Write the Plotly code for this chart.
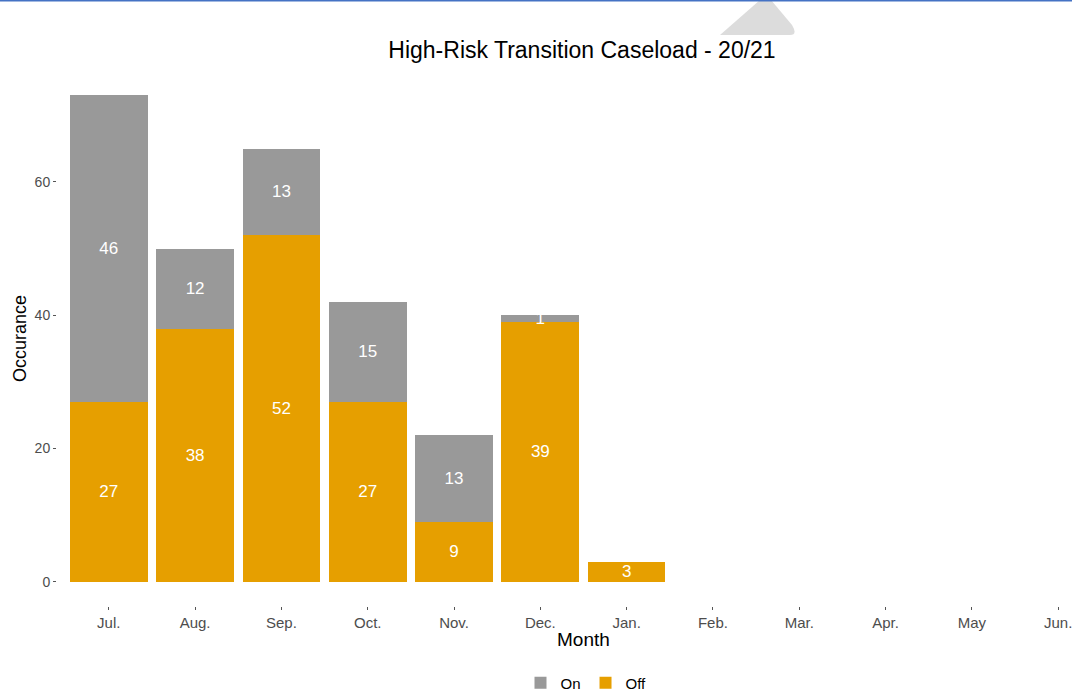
import plotly.graph_objects as go

months = ["Jul.", "Aug.", "Sep.", "Oct.", "Nov.", "Dec.", "Jan.", "Feb.", "Mar.", "Apr.", "May", "Jun."]
data_months = ["Jul.", "Aug.", "Sep.", "Oct.", "Nov.", "Dec.", "Jan."]
off_vals = [27, 38, 52, 27, 9, 39, 3]
on_months = ["Jul.", "Aug.", "Sep.", "Oct.", "Nov.", "Dec."]
on_vals = [46, 12, 13, 15, 13, 1]
y_ticks = [0, 20, 40, 60]

FONT = "Liberation Sans, Arial, sans-serif"
ORANGE = "#E69F00"
GREY = "#999999"

L, T, W, H = 57, 71, 1015, 535


def px(x):
    return (x - L) / W


def py(y):
    return 1 + (T - y) / H


fig = go.Figure()
fig.add_trace(go.Bar(
    x=data_months, y=off_vals, name="Off", marker_color=ORANGE, marker_line_width=0,
    text=[str(v) for v in off_vals], textposition="inside", insidetextanchor="middle",
    constraintext="none", textangle=0, textfont=dict(color="white", size=17, family=FONT),
    width=0.9,
))
fig.add_trace(go.Bar(
    x=on_months, y=on_vals, name="On", marker_color=GREY, marker_line_width=0,
    text=[str(v) for v in on_vals], textposition="inside", insidetextanchor="middle",
    constraintext="none", textangle=0, textfont=dict(color="white", size=17, family=FONT),
    width=0.9,
))

tri = "M {a} {b} L {c} {d} L {e} {d} L {f} {g} Q {h} {b} {i} {b} Z".format(
    a=px(720), b=py(35), c=px(760), d=py(0), e=px(771), f=px(792), g=py(25),
    h=px(798), i=px(790))

fig.update_layout(
    barmode="stack",
    width=1072, height=693,
    margin=dict(l=L, r=0, t=T, b=693 - T - H),
    paper_bgcolor="white", plot_bgcolor="white",
    font=dict(family=FONT),
    title=dict(text="High-Risk Transition Caseload - 20/21", x=582/1072, xref="container",
               xanchor="center", y=1 - 50/693, yref="container", yanchor="middle",
               font=dict(size=23, color="black", family=FONT)),
    xaxis=dict(categoryorder="array", categoryarray=months, range=[-0.6, 11.16],
               showgrid=False, zeroline=False, showline=False,
               ticks="outside", ticklen=3, tickcolor="#555555", tickwidth=1,
               tickfont=dict(size=15, color="#4d4d4d")),
    yaxis=dict(range=[-3.65, 76.65], tickvals=y_ticks, showgrid=False, zeroline=False,
               showline=False, ticks="outside", ticklen=3, tickcolor="#555555", tickwidth=1,
               tickfont=dict(size=14, color="#4d4d4d"),
               title=dict(text="Occurance", font=dict(size=18, color="black"), standoff=3)),
    annotations=[
        dict(text="Month", xref="paper", yref="paper", x=px(583), y=py(639),
             xanchor="center", yanchor="middle", showarrow=False,
             font=dict(size=19, color="black", family=FONT)),
    ],
    legend=dict(orientation="h", x=586/1072, xref="container", xanchor="center",
                y=10/693, yref="container", yanchor="middle", traceorder="reversed",
                font=dict(size=15, color="black")),
    shapes=[
        dict(type="line", xref="paper", yref="paper", x0=px(0), x1=1.0,
             y0=py(0.5), y1=py(0.5), line=dict(color="#4472C4", width=2)),
        dict(type="path", xref="paper", yref="paper", path=tri,
             fillcolor="#dcdcdc", line=dict(width=0), layer="below"),
    ],
)

fig.write_html("out.html", config={"displayModeBar": False})

with open("out.html", "r", encoding="utf-8") as f:
    html = f.read()
html = html.replace("<head>", "<head><style>html,body{margin:0;padding:0;overflow:hidden;}</style>", 1)
with open("out.html", "w", encoding="utf-8") as f:
    f.write(html)
